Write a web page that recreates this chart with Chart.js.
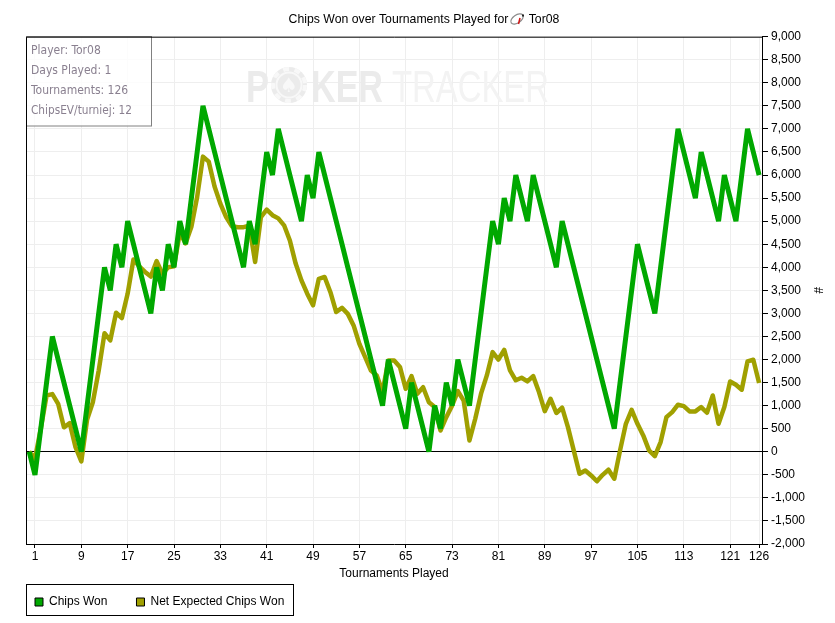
<!DOCTYPE html>
<html>
<head>
<meta charset="utf-8">
<title>Chips Won over Tournaments Played</title>
<script src="https://cdn.jsdelivr.net/npm/chart.js@4/dist/chart.umd.min.js"></script>
<style>
	html, body { margin: 0; padding: 0; background: #fff; }
	canvas { display: block; }
</style>
</head>
<body>
<canvas id="chipsChart" width="835" height="623"></canvas>
<script>
// values start at tournament 0, before the first one was played
var chipsWon = [
	0, -500, 500, 1500, 2500, 2000, 1500, 1000, 500, 0,
	1000, 2000, 3000, 4000, 3500, 4500, 4000, 5000, 4500, 4000,
	3500, 3000, 4000, 3500, 4500, 4000, 5000, 4500, 5500, 6500,
	7500, 7000, 6500, 6000, 5500, 5000, 4500, 4000, 5000, 4500,
	5500, 6500, 6000, 7000, 6500, 6000, 5500, 5000, 6000, 5500,
	6500, 6000, 5500, 5000, 4500, 4000, 3500, 3000, 2500, 2000,
	1500, 1000, 2000, 1500, 1000, 500, 1500, 1000, 500, 0,
	1000, 500, 1500, 1000, 2000, 1500, 1000, 2000, 3000, 4000,
	5000, 4500, 5500, 5000, 6000, 5500, 5000, 6000, 5500, 5000,
	4500, 4000, 5000, 4500, 4000, 3500, 3000, 2500, 2000, 1500,
	1000, 500, 1500, 2500, 3500, 4500, 4000, 3500, 3000, 4000,
	5000, 6000, 7000, 6500, 6000, 5500, 6500, 6000, 5500, 5000,
	6000, 5500, 5000, 6000, 7000, 6500, 6000
];
var netExpected = [
	0, -150, 500, 1220, 1250, 1040, 530, 620, 100, -210,
	700, 1080, 1760, 2570, 2415, 3015, 2900, 3430, 4170, 4020,
	3900, 3800, 4135, 3860, 4000, 4020, 4750, 4520, 4880, 5530,
	6400, 6290, 5750, 5380, 5090, 4890, 4870, 4870, 4900, 4115,
	5090, 5250, 5130, 5060, 4910, 4580, 4080, 3716, 3427, 3175,
	3750, 3790, 3460, 3030, 3120, 2990, 2740, 2340, 2050, 1760,
	1655, 1300, 1980, 1980, 1840, 1365, 1640, 1260, 1400, 1075,
	970, 460, 750, 1000, 1315, 1110, 245, 715, 1260, 1655,
	2160, 2000, 2210, 1765, 1550, 1605, 1525, 1640, 1295, 880,
	1150, 840, 955, 535, 30, -477, -405, -513, -640, -500,
	-390, -585, 30, 607, 910, 607, 354, 30, -94, 210,
	750, 860, 1020, 990, 875, 875, 970, 846, 1220, 607,
	970, 1525, 1453, 1345, 1960, 1995, 1490
];
var tournamentTicks = [1, 9, 17, 25, 33, 41, 49, 57, 65, 73, 81, 89, 97, 105, 113, 121, 126];
var infoLines = ['Player: Tor08', 'Days Played: 1', 'Tournaments: 126', 'ChipsEV/turniej: 12'];

var uiFont = '"Liberation Sans", Arial, sans-serif';

function toPoints(values) {
	return values.map(function(v, i) { return { x: i, y: v }; });
}

function drawWatermark(ctx) {
	ctx.save();
	ctx.textBaseline = 'alphabetic';
	ctx.textAlign = 'left';
	ctx.fillStyle = '#ebebeb';
	ctx.font = 'bold 44px ' + uiFont;
	ctx.fillText('P', 246, 101.5, 23);
	ctx.fillText('KER', 311, 101.5, 72);

	// poker chip standing in for the O
	ctx.beginPath();
	ctx.arc(289, 85, 18, 0, Math.PI * 2);
	ctx.fill();
	ctx.strokeStyle = '#f8f8f8';
	ctx.lineWidth = 2;
	ctx.beginPath();
	ctx.arc(289, 85, 12.5, 0, Math.PI * 2);
	ctx.stroke();
	ctx.setLineDash([6, 5.5]);
	ctx.lineWidth = 4;
	ctx.beginPath();
	ctx.arc(289, 85, 16, 0, Math.PI * 2);
	ctx.stroke();
	ctx.setLineDash([]);
	ctx.fillStyle = '#f8f8f8';
	ctx.font = 'bold 20px "DejaVu Sans"';
	ctx.textAlign = 'center';
	ctx.fillText('\u2660', 289, 92);

	ctx.textAlign = 'left';
	ctx.fillStyle = '#f3f3f3';
	ctx.font = '44px ' + uiFont;
	ctx.fillText('TRACKER', 392, 101.5, 157);
	ctx.restore();
}

function drawInfoBox(ctx) {
	ctx.save();
	ctx.fillStyle = 'rgba(255,255,255,0.8)';
	ctx.fillRect(27, 37, 124.5, 89);
	ctx.strokeStyle = '#808080';
	ctx.lineWidth = 1;
	ctx.strokeRect(26.5, 36.5, 125, 89.5);
	ctx.fillStyle = '#8a8090';
	ctx.font = '12px "DejaVu Sans Condensed", "DejaVu Sans"';
	ctx.textBaseline = 'alphabetic';
	infoLines.forEach(function(line, i) {
		ctx.fillText(line, 31, 54 + i * 20, 101);
	});
	ctx.restore();
}

function drawTitleIcon(ctx) {
	ctx.save();
	ctx.lineWidth = 1.2;
	ctx.strokeStyle = '#8c8c8c';
	ctx.beginPath();
	ctx.ellipse(517, 19, 7, 4, -0.6, 0, Math.PI * 2);
	ctx.stroke();
	ctx.strokeStyle = '#d01818';
	ctx.lineWidth = 1.6;
	ctx.beginPath();
	ctx.moveTo(520, 18);
	ctx.lineTo(518.5, 24);
	ctx.stroke();
	ctx.fillStyle = '#222';
	ctx.fillRect(522, 14.5, 2, 2);
	ctx.restore();
}

var chartDecor = {
	id: 'chartDecor',
	afterLayout: function(chart) {
		// put the legend where the box below the plot is
		chart.legend.left = 6;
		chart.legend.top = 567;
		chart.titleBlock.left -= 1.5;
		chart.titleBlock.right -= 1.5;
	},
	beforeDatasetsDraw: function(chart) {
		drawWatermark(chart.ctx);
	},
	afterDraw: function(chart) {
		var ctx = chart.ctx;
		var area = chart.chartArea;
		drawInfoBox(ctx);
		drawTitleIcon(ctx);
		ctx.save();
		ctx.strokeStyle = '#000';
		ctx.lineWidth = 1;
		ctx.beginPath();
		ctx.moveTo(area.left + 0.5, area.bottom);
		ctx.lineTo(area.left + 0.5, area.top + 0.5);
		ctx.lineTo(area.right, area.top + 0.5);
		ctx.stroke();
		ctx.strokeRect(26.5, 584.5, 267, 31);
		ctx.restore();
	}
};

var ctx = document.getElementById('chipsChart').getContext('2d');
var chipsChart = new Chart(ctx, {
	type: 'line',
	data: {
		datasets: [{
			label: 'Chips Won',
			data: toPoints(chipsWon),
			borderColor: '#00a800',
			backgroundColor: '#00a800',
			borderWidth: 5,
			borderJoinStyle: 'bevel',
			pointRadius: 0,
			tension: 0,
			order: 1
		}, {
			label: 'Net Expected Chips Won',
			data: toPoints(netExpected),
			borderColor: '#a0a000',
			backgroundColor: '#a0a000',
			borderWidth: 4.5,
			borderJoinStyle: 'round',
			pointRadius: 0,
			tension: 0,
			order: 2
		}]
	},
	options: {
		responsive: false,
		animation: false,
		layout: { padding: { left: 26, right: 10, top: 0, bottom: -9 } },
		plugins: {
			tooltip: { enabled: false },
			title: {
				display: true,
				text: 'Chips Won over Tournaments Played for      Tor08',
				color: '#000',
				font: { family: uiFont, size: 12.25, weight: 'normal' },
				padding: { top: 12, bottom: 10 }
			},
			legend: {
				position: 'bottom',
				align: 'start',
				labels: {
					boxWidth: 8,
					boxHeight: 8,
					padding: 29,
					color: '#000',
					font: { family: uiFont, size: 12 },
					generateLabels: function(chart) {
						return Chart.defaults.plugins.legend.labels.generateLabels(chart).map(function(item) {
							item.strokeStyle = '#000';
							item.lineWidth = 1;
							item.lineDash = [];
							return item;
						});
					}
				}
			}
		},
		scales: {
			x: {
				type: 'linear',
				min: -0.55,
				max: 126.5,
				afterBuildTicks: function(axis) {
					axis.ticks = tournamentTicks.map(function(v) { return { value: v }; });
				},
				afterFit: function(axis) { axis.height = 37; },
				grid: { color: '#eeeeee', lineWidth: 1, tickColor: '#000', tickLength: 4 },
				border: { color: '#000', width: 1 },
				ticks: {
					autoSkip: false,
					maxRotation: 0,
					padding: 1,
					color: '#000',
					font: { family: uiFont, size: 12 }
				},
				title: {
					display: true,
					text: 'Tournaments Played',
					color: '#000',
					font: { family: uiFont, size: 12 },
					padding: 0
				}
			},
			y: {
				position: 'right',
				min: -2000,
				max: 9000,
				afterFit: function(axis) { axis.width = 63; },
				grid: {
					lineWidth: 1,
					tickColor: '#000',
					tickLength: 6,
					color: function(c) { return c.tick && c.tick.value === 0 ? '#000' : '#eeeeee'; }
				},
				border: { color: '#000', width: 1 },
				ticks: {
					stepSize: 500,
					padding: 3,
					color: '#000',
					font: { family: uiFont, size: 12 },
					callback: function(v) { return v.toLocaleString('en-US'); }
				},
				title: {
					display: true,
					text: '#',
					color: '#000',
					font: { family: uiFont, size: 12 },
					padding: 0
				}
			}
		}
	},
	plugins: [chartDecor]
});
</script>
</body>
</html>
